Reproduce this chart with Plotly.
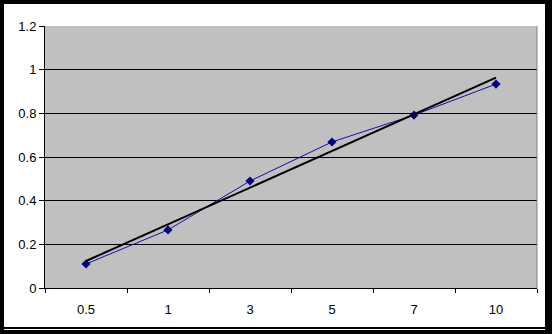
import numpy as np
import plotly.graph_objects as go

categories = ["0.5", "1", "3", "5", "7", "10"]
values = [0.11, 0.266, 0.49, 0.669, 0.792, 0.934]

W, H = 552, 334
L, R, T, B = 45, 15, 26, 46
pw, ph = W - L - R, H - T - B

def px(x):
    return (x - L) / pw

def py(y):
    return (H - B - y) / ph

idx = np.arange(1, len(values) + 1)
slope, intercept = np.polyfit(idx, values, 1)
trend = slope * idx + intercept

fig = go.Figure()
fig.add_trace(go.Scatter(x=categories, y=values, mode="lines+markers",
                         line=dict(color="#1010A0", width=1),
                         marker=dict(symbol="diamond", size=7, color="#000080"),
                         showlegend=False))
fig.add_trace(go.Scatter(x=categories, y=trend, mode="lines",
                         line=dict(color="black", width=2),
                         showlegend=False))

shapes = [
    dict(type="rect", xref="paper", yref="paper", x0=px(4), x1=px(545), y0=py(327), y1=py(4),
         fillcolor="white", line=dict(width=0), layer="below"),
    dict(type="line", xref="paper", yref="paper", x0=px(4), x1=px(545), y0=py(329.5), y1=py(329.5),
         line=dict(color="white", width=1), layer="below"),
    dict(type="rect", xref="paper", yref="paper", x0=0, x1=1, y0=0, y1=1,
         fillcolor="#C0C0C0", line=dict(width=0), layer="below"),
    dict(type="line", xref="paper", yref="paper", x0=1, x1=1, y0=0, y1=1,
         line=dict(color="#808080", width=1)),
]

fig.update_layout(
    width=W, height=H,
    margin=dict(l=L, r=R, t=T, b=B),
    paper_bgcolor="black",
    plot_bgcolor="#C0C0C0",
    font=dict(family="Liberation Sans, Arial, sans-serif", size=13, color="black"),
    shapes=shapes,
    xaxis=dict(type="category", showgrid=False, showline=True, linecolor="black", linewidth=1,
               ticks="outside", tickson="boundaries", ticklen=4, tickcolor="black",
               ticklabelstandoff=9,
               range=[-0.5, 5.5], zeroline=False),
    yaxis=dict(range=[0, 1.2], dtick=0.2, showgrid=True, gridcolor="black", gridwidth=1,
               showline=True, linecolor="black", linewidth=1, ticks="outside", ticklen=5,
               tickcolor="black", zeroline=False),
)

fig.write_html("out.html")
